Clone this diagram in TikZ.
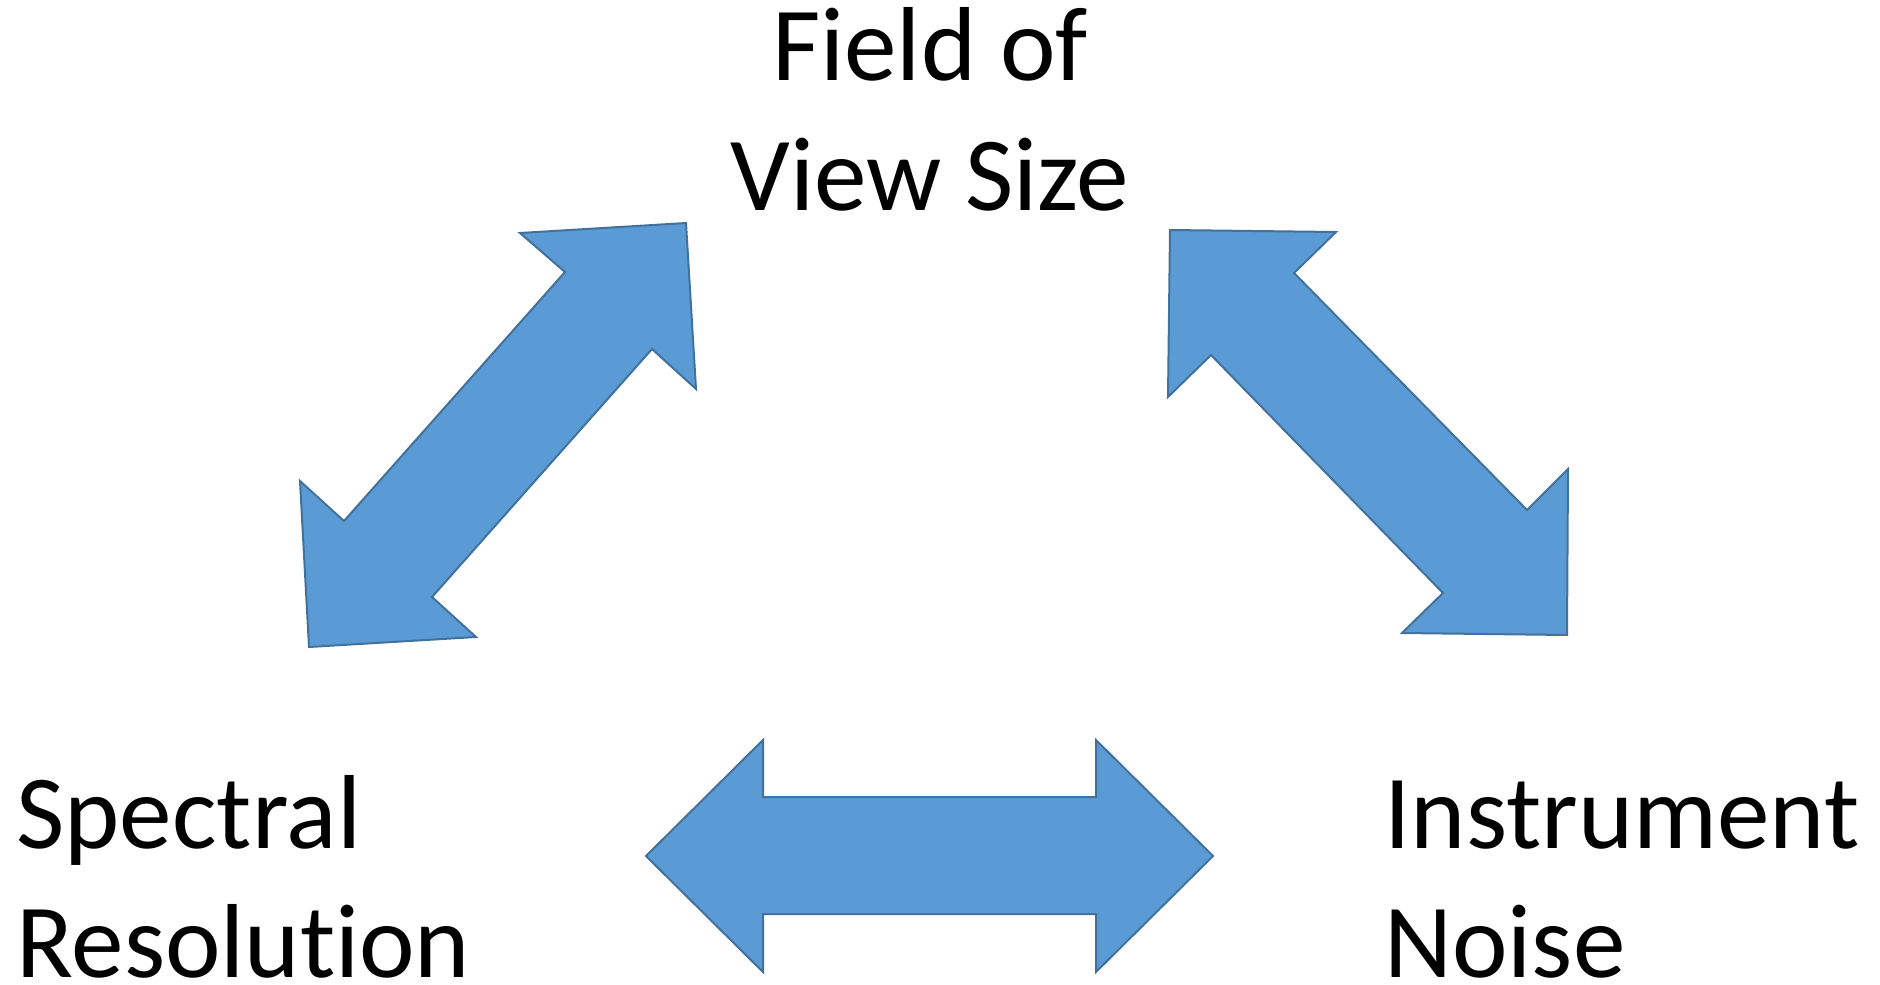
\documentclass[tikz,border=0pt]{standalone}
\usepackage{fontspec}
\setmainfont{Carlito}[Ligatures={NoCommon}]
\definecolor{arrowfill}{HTML}{5B9BD5}
\definecolor{arrowline}{HTML}{41719C}
\begin{document}
\begin{tikzpicture}[x=0.5pt,y=-0.5pt,
  bigarrow/.style={fill=arrowfill,draw=arrowline,line width=1pt,line join=miter},
  lbl/.style={inner sep=0pt,font=\fontsize{52.6}{64}\selectfont}]
\useasboundingbox (0,0) rectangle (1880,985);
% left diagonal double arrow
\draw[bigarrow] (686,223) -- (520,233) -- (565,272) -- (344,521) -- (300,481)
  -- (309,647) -- (476,637) -- (432,597) -- (652,349) -- (696,389) -- cycle;
% right diagonal double arrow
\draw[bigarrow] (1170,230) -- (1336,232) -- (1294,273) -- (1527,510) -- (1568,469)
  -- (1567,635) -- (1402,633) -- (1443,593) -- (1211,355) -- (1168,397) -- cycle;
% bottom horizontal double arrow
\draw[bigarrow] (646,856) -- (763,740) -- (763,797) -- (1096,797) -- (1096,740)
  -- (1213,856) -- (1096,972) -- (1096,914) -- (763,914) -- (763,972) -- cycle;
% labels
\node[lbl,anchor=base] (fov1) at (930,80) {Field of};
\node[lbl,anchor=base] (fov2) at (930,210) {View Size};
\node[lbl,anchor=base west] (spec1) at (16,848) {Spectral};
\node[lbl,anchor=base west,text depth=0pt] (spec2) at (16,977) {Resolution};
\node[lbl,anchor=base west] (inst1) at (1384,848) {Instrument};
\node[lbl,anchor=base west,text depth=0pt] (inst2) at (1384,977) {Noise};
\end{tikzpicture}
\end{document}
